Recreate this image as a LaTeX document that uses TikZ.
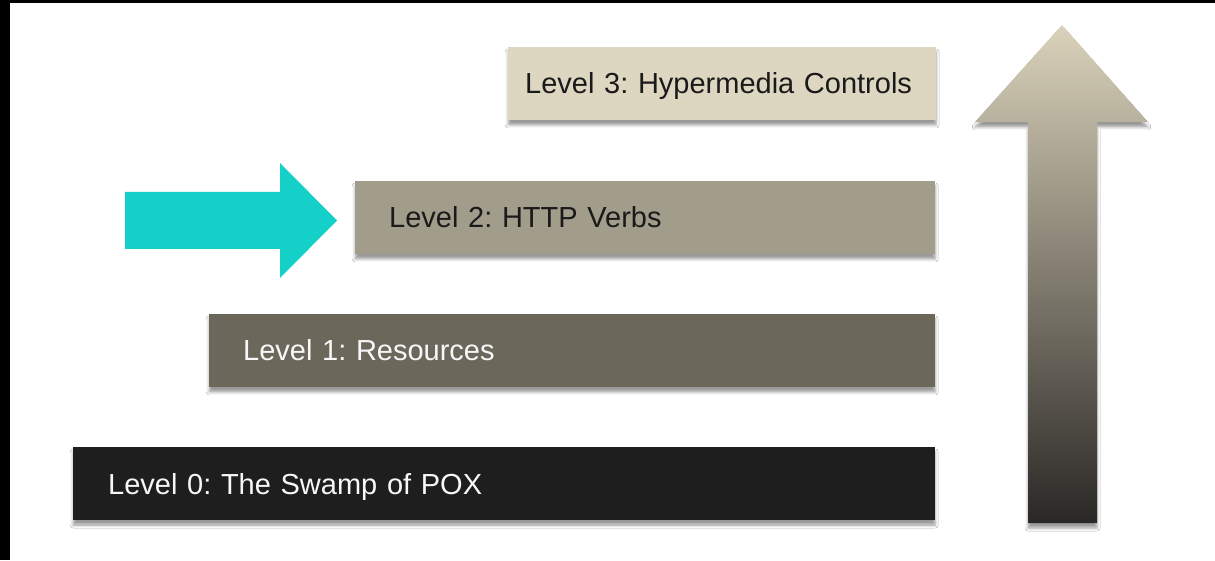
\documentclass[tikz,border=0pt]{standalone}
\usepackage{fontspec}
\setmainfont{Liberation Sans}
\usetikzlibrary{shadows.blur}
\frenchspacing
\hyphenpenalty=10000
\definecolor{lvlthree}{HTML}{DDD6C0}
\definecolor{lvltwo}{HTML}{A29D8B}
\definecolor{lvlone}{HTML}{6B675B}
\definecolor{lvlzero}{HTML}{1E1E1E}
\definecolor{darktext}{HTML}{1A1A1A}
\definecolor{lighttext}{HTML}{F7F7F7}
\definecolor{cyanarrow}{HTML}{15D0C8}
\definecolor{arrtop}{HTML}{DAD2BA}
\definecolor{arrmid}{HTML}{8E8979}
\definecolor{arrbot}{HTML}{2A2826}
\begin{document}
\begin{tikzpicture}[x=1pt,y=1pt,
  softshadow/.style={blur shadow={shadow xshift=0pt, shadow yshift=-5pt, shadow blur radius=3pt, shadow opacity=40}},
  lvl/.style={anchor=west, minimum height=73pt, inner ysep=0pt, align=left,
    text height=21pt, text depth=0pt, font=\fontsize{29}{32}\selectfont, softshadow},
]
\useasboundingbox (0,0) rectangle (1215,560);
\fill[white] (0,0) rectangle (1215,560);
\fill[black] (0,557) rectangle (1215,560);
\fill[black] (0,0) rectangle (10,560);

\node[lvl, fill=lvlthree, text=darktext, inner xsep=17pt, text width=394pt] (l3) at (508,476.5) {Level 3: Hypermedia Controls};
\node[lvl, fill=lvltwo, text=darktext, inner xsep=34pt, text width=512pt] (l2) at (355,342.5) {Level 2: HTTP Verbs};
\node[lvl, fill=lvlone, text=lighttext, inner xsep=34pt, text width=658pt] (l1) at (209,209.5) {Level 1: Resources};
\node[lvl, fill=lvlzero, text=lighttext, inner xsep=35pt, text width=792pt] (l0) at (73,76.5) {Level 0: The Swamp of POX};

\shade[top color=arrtop, middle color=arrmid, bottom color=arrbot, softshadow]
  (1062,535) -- (1148,438) -- (1097,438) -- (1097,37) -- (1028,37) -- (1028,438) -- (975,438) -- cycle;

\fill[cyanarrow] (125,368) -- (280,368) -- (280,397) -- (337,339.5) -- (280,282) -- (280,311) -- (125,311) -- cycle;
\end{tikzpicture}
\end{document}
